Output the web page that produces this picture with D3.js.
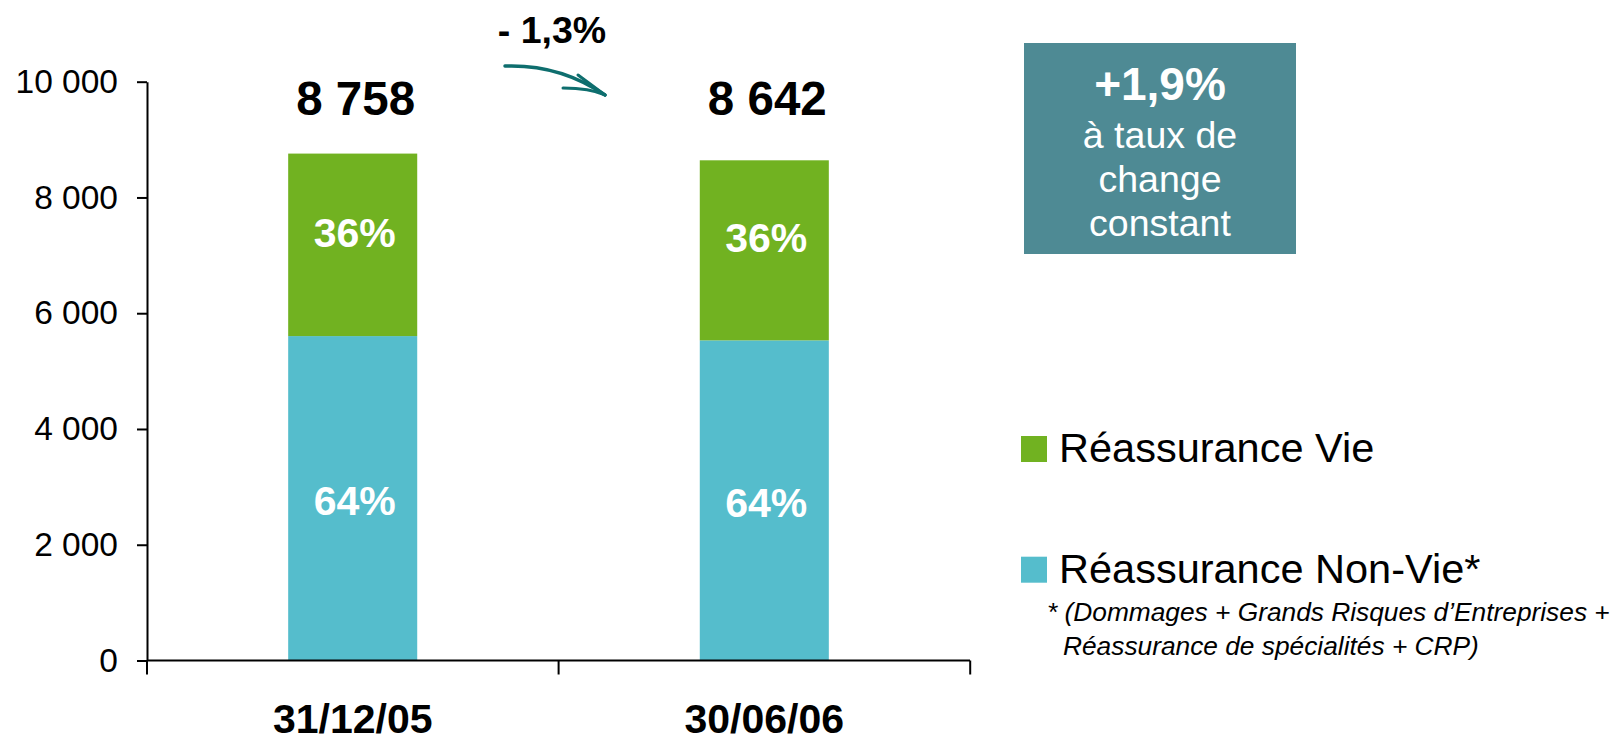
<!DOCTYPE html>
<html lang="fr">
<head>
    <meta charset="UTF-8">
    <title>Réassurance Vie / Non-Vie</title>
    <style>
        body { margin: 0; background: #fff; }
        svg { display: block; font-family: "Liberation Sans", Arial, sans-serif; }
        .axis path, .axis line { stroke: #000; stroke-width: 2; }
        .axis text { fill: #000; font-size: 33.5px; }
    </style>
</head>
<body>
    <svg width="1618" height="743"></svg>
    <script src="https://cdn.jsdelivr.net/npm/d3@7"></script>
    <script>
        // data
        var categories = ["31/12/05", "30/06/06"];
        var nonVie = [5605, 5531];
        var vie = [3153, 3111];
        var yTicks = [0, 2000, 4000, 6000, 8000, 10000];
        var seriesNames = ["Réassurance Vie", "Réassurance Non-Vie*"];
        var variation = "- 1,3%";
        var boxLines = ["+1,9%", "à taux de", "change", "constant"];
        var footnote = ["* (Dommages + Grands Risques d\u2019Entreprises +", "Réassurance de spécialités + CRP)"];

        var green = "#71b221", blue = "#55bdcc", boxColor = "#4e8a94", arrowColor = "#0e6e6e";

        var fr = d3.formatLocale({ decimal: ",", thousands: " ", grouping: [3], currency: ["", " €"] });
        var fmt = fr.format(",d");

        var svg = d3.select("svg");

        var rows = categories.map(function(c, i) {
            return { cat: c, nonVie: nonVie[i], vie: vie[i], total: nonVie[i] + vie[i] };
        });

        var y = d3.scaleLinear().domain([0, 10000]).range([660.5, 81.7]);
        var x = d3.scaleBand().domain(categories).range([147, 970])
            .paddingInner(0.6865).paddingOuter(0.343);

        var stack = d3.stack().keys(["nonVie", "vie"]);
        var layers = stack(rows);
        var colors = { nonVie: blue, vie: green };

        // bars
        var layer = svg.selectAll(".layer")
            .data(layers)
            .enter().append("g")
            .attr("class", "layer")
            .attr("fill", function(d) { return colors[d.key]; });

        layer.selectAll("rect")
            .data(function(d) { return d; })
            .enter().append("rect")
            .attr("x", function(d) { return x(d.data.cat); })
            .attr("y", function(d) { return y(d[1]); })
            .attr("width", x.bandwidth())
            .attr("height", function(d) { return y(d[0]) - y(d[1]); });

        // share labels inside segments
        layer.selectAll("text")
            .data(function(d) { return d.map(function(p) { p.key = d.key; return p; }); })
            .enter().append("text")
            .attr("x", function(d) { return x(d.data.cat) + x.bandwidth() / 2 + 2; })
            .attr("y", function(d) { return (y(d[0]) + y(d[1])) / 2; })
            .attr("dy", function(d) { return d.key == "vie" ? "0.05em" : "0.4em"; })
            .attr("text-anchor", "middle")
            .attr("fill", "#fff")
            .style("font-size", "41px")
            .style("font-weight", "bold")
            .text(function(d) { return Math.round((d[1] - d[0]) / d.data.total * 100) + "%"; });

        // y axis
        var yAxis = svg.append("g")
            .attr("class", "axis")
            .attr("transform", "translate(147,0)")
            .call(d3.axisLeft(y).tickValues(yTicks).tickFormat(fmt).tickSize(10).tickSizeOuter(0).tickPadding(19));

        // x axis: baseline plus ticks at band edges
        var xAxis = svg.append("g").attr("class", "axis");
        xAxis.append("line")
            .attr("x1", x.range()[0]).attr("x2", x.range()[1])
            .attr("y1", y(0)).attr("y2", y(0));
        var edges = [x.range()[0]].concat(categories.map(function(c) { return x(c) - x.step() * x.paddingOuter() + x.step(); }));
        xAxis.selectAll(".edge")
            .data(edges)
            .enter().append("line")
            .attr("x1", function(d) { return d; }).attr("x2", function(d) { return d; })
            .attr("y1", y(0)).attr("y2", y(0) + 14);

        svg.selectAll(".cat")
            .data(categories)
            .enter().append("text")
            .attr("x", function(d) { return x(d) + x.bandwidth() / 2; })
            .attr("y", 733)
            .attr("text-anchor", "middle")
            .style("font-size", "41px")
            .style("font-weight", "bold")
            .text(function(d) { return d; });

        // totals above bars
        svg.selectAll(".total")
            .data(rows)
            .enter().append("text")
            .attr("x", function(d) { return x(d.cat) + x.bandwidth() / 2 + 3; })
            .attr("y", 115)
            .attr("text-anchor", "middle")
            .style("font-size", "47.5px")
            .style("font-weight", "bold")
            .text(function(d) { return fmt(d.total); });

        // variation and hand drawn arrow
        svg.append("text")
            .attr("x", 552).attr("y", 43)
            .attr("text-anchor", "middle")
            .style("font-size", "37.5px")
            .style("font-weight", "bold")
            .text(variation);

        var arrow = svg.append("g")
            .attr("fill", "none")
            .attr("stroke", arrowColor)
            .attr("stroke-linecap", "round")
            .attr("stroke-linejoin", "round");
        arrow.append("path").attr("d", "M505,66 Q560,64 605,95").attr("stroke-width", 3.5);
        arrow.append("path").attr("d", "M578,75 L605,95").attr("stroke-width", 3);
        arrow.append("path").attr("d", "M563,88 Q590,88 605,95").attr("stroke-width", 3);

        // constant exchange rate box
        svg.append("rect")
            .attr("x", 1024).attr("y", 43)
            .attr("width", 272).attr("height", 211)
            .attr("fill", boxColor);
        svg.selectAll(".boxline")
            .data(boxLines)
            .enter().append("text")
            .attr("x", 1160)
            .attr("y", function(d, i) { return i == 0 ? 100 : 148 + (i - 1) * 44; })
            .attr("text-anchor", "middle")
            .attr("fill", "#fff")
            .style("font-size", function(d, i) { return i == 0 ? "46px" : "37.5px"; })
            .style("font-weight", function(d, i) { return i == 0 ? "bold" : "normal"; })
            .text(function(d) { return d; });

        // legend
        var legend = svg.selectAll(".legend")
            .data(seriesNames)
            .enter().append("g")
            .attr("transform", function(d, i) { return "translate(1021," + (436 + i * 120.7) + ")"; });
        legend.append("rect")
            .attr("width", 26).attr("height", 26)
            .attr("fill", function(d, i) { return i == 0 ? green : blue; });
        legend.append("text")
            .attr("x", 38).attr("y", 26)
            .style("font-size", "41.5px")
            .text(function(d) { return d; });

        svg.selectAll(".note")
            .data(footnote)
            .enter().append("text")
            .attr("x", function(d, i) { return i == 0 ? 1047 : 1063; })
            .attr("y", function(d, i) { return 621 + i * 34; })
            .style("font-size", "26.3px")
            .style("font-style", "italic")
            .text(function(d) { return d; });
    </script>
</body>
</html>
